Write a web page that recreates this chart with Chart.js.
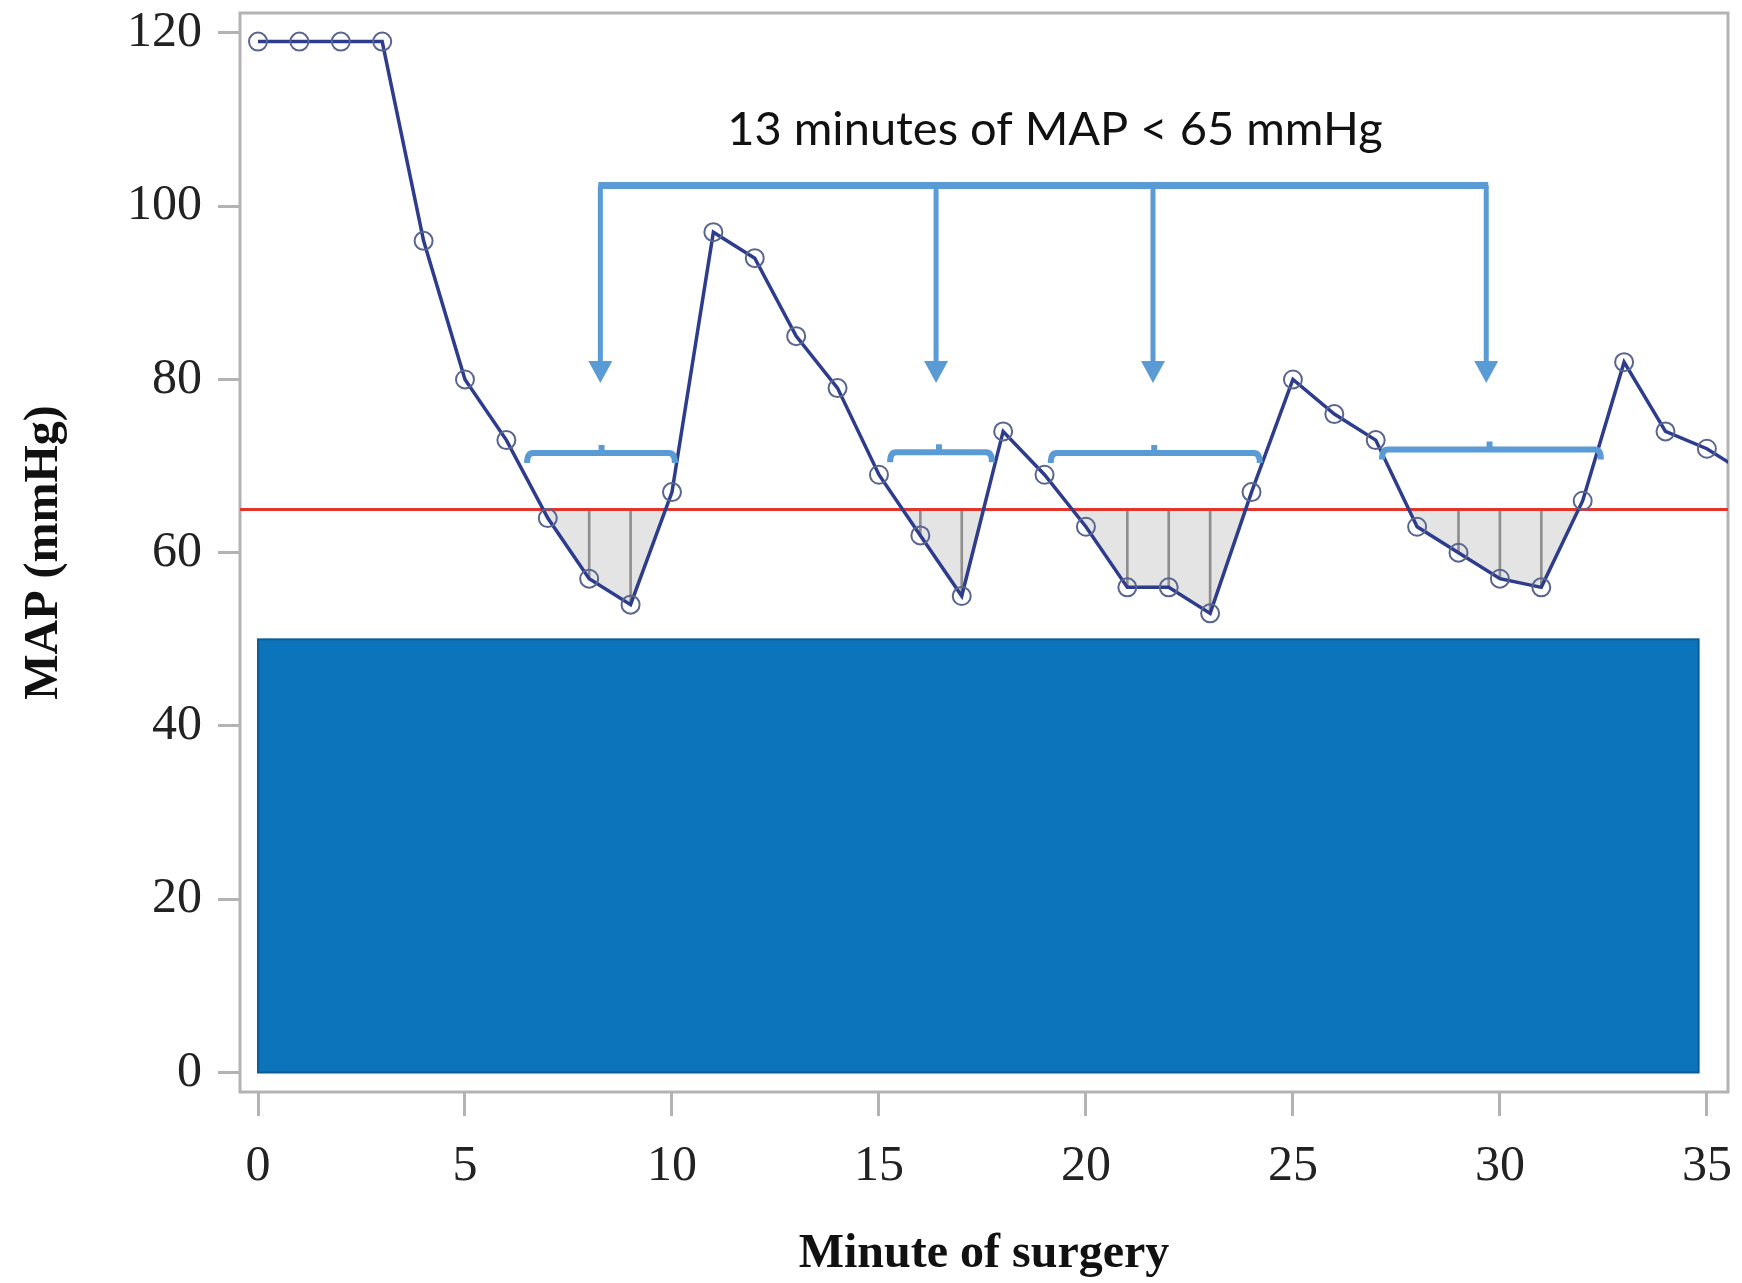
<!DOCTYPE html>
<html>
<head>
<meta charset="utf-8">
<title>MAP during surgery</title>
<script src="https://cdn.jsdelivr.net/npm/chart.js@4.4.0/dist/chart.umd.min.js"></script>
<style>
  html, body { margin: 0; padding: 0; background: #ffffff; }
  canvas { display: block; }
</style>
</head>
<body>
<canvas id="mapChart" width="1742" height="1283"></canvas>
<script>
// minute of surgery and the MAP reading at each minute
var minutes = [0, 1, 2, 3, 4, 5, 6, 7, 8, 9, 10, 11, 12, 13, 14, 15, 16, 17, 18,
               19, 20, 21, 22, 23, 24, 25, 26, 27, 28, 29, 30, 31, 32, 33, 34, 35, 36];
var mapValues = [119, 119, 119, 119, 96, 80, 73, 64, 57, 54, 67, 97, 94, 85, 79, 69, 62, 55, 74,
                 69, 63, 56, 56, 53, 67, 80, 76, 73, 63, 60, 57, 56, 66, 82, 74, 72, 69];
var threshold = 65;
// minutes that get a drop line down from the threshold
var dropMinutes = [8, 9, 16, 17, 21, 22, 23, 29, 30, 31];

var xTicks = [0, 5, 10, 15, 20, 25, 30, 35];
var yTicks = [0, 20, 40, 60, 80, 100, 120];

// brackets over each stretch below 65 (minutes / mmHg)
var spanStarts = [6.5, 15.27, 19.15, 27.15];
var spanMids = [8.3, 16.45, 21.65, 29.75];
var spanEnds = [10.07, 17.73, 24.2, 32.44];
var spanLevels = [71.5, 71.6, 71.5, 71.9];
// arrows from the summary bracket down to each stretch
var arrowMinutes = [8.27, 16.38, 21.62, 29.67];
var arrowTop = 102.4;
var arrowTip = 79.6;
var noteText = '13 minutes of MAP < 65 mmHg';
var notePos = [19.25, 108.8];
// solid blue cover box: minutes from/to, mmHg from/to
var coverBox = [0, 34.8, 0, 50];

var serif = '"Liberation Serif", "DejaVu Serif", serif';
var bracketBlue = '#5b9bd5';

var annotations = {
    id: 'annotations',
    beforeDatasetsDraw: function(chart) {
        var a = chart.chartArea, ctx = chart.ctx;
        ctx.save();
        ctx.strokeStyle = '#b3b3b3';
        ctx.lineWidth = 3;
        ctx.strokeRect(a.left, a.top, a.right - a.left, a.bottom - a.top);
        ctx.restore();
    },
    afterDatasetsDraw: function(chart) {
        var ctx = chart.ctx;
        var xs = chart.scales.x, ys = chart.scales.y;
        ctx.save();

        // blue cover box
        var bx1 = xs.getPixelForValue(coverBox[0]), bx2 = xs.getPixelForValue(coverBox[1]);
        var by1 = ys.getPixelForValue(coverBox[3]), by2 = ys.getPixelForValue(coverBox[2]);
        ctx.fillStyle = '#0b74ba';
        ctx.fillRect(bx1, by1, bx2 - bx1, by2 - by1);
        ctx.strokeStyle = '#0a5d96';
        ctx.lineWidth = 2;
        ctx.strokeRect(bx1, by1, bx2 - bx1, by2 - by1);

        // small brackets
        ctx.strokeStyle = bracketBlue;
        ctx.lineWidth = 6;
        ctx.lineJoin = 'round';
        ctx.lineCap = 'butt';
        for (var i = 0; i < spanStarts.length; i++) {
            var x1 = xs.getPixelForValue(spanStarts[i]);
            var x2 = xs.getPixelForValue(spanEnds[i]);
            var xm = xs.getPixelForValue(spanMids[i]);
            var y = ys.getPixelForValue(spanLevels[i]);
            ctx.beginPath();
            ctx.moveTo(x1, y + 10);
            ctx.quadraticCurveTo(x1, y, x1 + 6, y);
            ctx.lineTo(x2 - 6, y);
            ctx.quadraticCurveTo(x2, y, x2, y + 10);
            ctx.moveTo(xm, y);
            ctx.lineTo(xm, y - 8);
            ctx.stroke();
        }

        // summary bracket with arrows
        var yt = ys.getPixelForValue(arrowTop);
        var yTip = ys.getPixelForValue(arrowTip);
        var first = xs.getPixelForValue(arrowMinutes[0]);
        var last = xs.getPixelForValue(arrowMinutes[arrowMinutes.length - 1]);
        ctx.lineWidth = 7;
        ctx.beginPath();
        ctx.moveTo(first - 2, yt);
        ctx.lineTo(last + 2, yt);
        ctx.stroke();
        ctx.lineWidth = 5;
        ctx.fillStyle = bracketBlue;
        arrowMinutes.forEach(function(m) {
            var ax = xs.getPixelForValue(m);
            ctx.beginPath();
            ctx.moveTo(ax, yt);
            ctx.lineTo(ax, yTip - 20);
            ctx.stroke();
            ctx.beginPath();
            ctx.moveTo(ax - 12, yTip - 22);
            ctx.lineTo(ax + 12, yTip - 22);
            ctx.lineTo(ax, yTip);
            ctx.closePath();
            ctx.fill();
        });

        // note text
        ctx.fillStyle = '#111111';
        ctx.font = '47px Lato, "Open Sans", sans-serif';
        ctx.textAlign = 'center';
        ctx.textBaseline = 'middle';
        ctx.fillText(noteText, xs.getPixelForValue(notePos[0]), ys.getPixelForValue(notePos[1]));
        ctx.restore();
    }
};

window.onload = function() {
    var ctx = document.getElementById('mapChart').getContext('2d');
    var mapChart = new Chart(ctx, {
        type: 'line',
        data: {
            datasets: [{
                label: 'MAP',
                data: minutes.map(function(m, i) { return { x: m, y: mapValues[i] }; }),
                borderColor: '#2d3c8c',
                borderWidth: 3.5,
                pointRadius: 9,
                pointBorderWidth: 2,
                pointBorderColor: '#59658f',
                pointBackgroundColor: 'rgba(0,0,0,0)',
                tension: 0,
                fill: { target: { value: threshold }, above: 'rgba(0,0,0,0)', below: '#e4e4e4' },
                order: 0
            }, {
                label: 'Threshold',
                data: [{ x: -1, y: threshold }, { x: 37, y: threshold }],
                borderColor: '#e2362c',
                borderWidth: 3,
                pointRadius: 0,
                fill: false,
                order: 1
            }, {
                type: 'bar',
                label: 'Below threshold',
                data: dropMinutes.map(function(m) {
                    return { x: m, y: [threshold, mapValues[minutes.indexOf(m)]] };
                }),
                backgroundColor: '#8e8e8e',
                borderWidth: 0,
                barThickness: 2,
                order: 2
            }]
        },
        options: {
            responsive: false,
            animation: false,
            layout: { padding: { top: 13, right: 14, left: 0, bottom: 0 } },
            plugins: {
                legend: { display: false },
                tooltip: { enabled: false },
                filler: { drawTime: 'beforeDatasetsDraw' }
            },
            scales: {
                x: {
                    type: 'linear',
                    min: -0.435,
                    max: 35.51,
                    offset: false,
                    afterBuildTicks: function(s) { s.ticks = xTicks.map(function(v) { return { value: v }; }); },
                    afterFit: function(s) {
                        s.height = 191;
                        s.paddingLeft = 0;
                        s.paddingRight = 0;
                    },
                    border: { display: false },
                    grid: { offset: false, drawOnChartArea: false, drawTicks: true, tickLength: 24, tickColor: '#b3b3b3', tickWidth: 3 },
                    ticks: { font: { family: serif, size: 50 }, color: '#222222', padding: 21, maxRotation: 0, autoSkip: false },
                    title: {
                        display: true,
                        text: 'Minute of surgery',
                        color: '#111111',
                        font: { family: serif, size: 48, weight: 'bold' },
                        padding: { top: 0, bottom: 0 }
                    }
                },
                y: {
                    min: -2.25,
                    max: 122.3,
                    afterBuildTicks: function(s) { s.ticks = yTicks.map(function(v) { return { value: v }; }); },
                    afterFit: function(s) {
                        s.width = 240;
                        s.paddingTop = 0;
                        s.paddingBottom = 0;
                    },
                    border: { display: false },
                    grid: { drawOnChartArea: false, drawTicks: true, tickLength: 22, tickColor: '#b3b3b3', tickWidth: 3 },
                    ticks: { font: { family: serif, size: 50 }, color: '#222222', padding: 16 },
                    title: {
                        display: true,
                        text: 'MAP (mmHg)',
                        color: '#111111',
                        font: { family: serif, size: 48, weight: 'bold' },
                        padding: { top: 16, bottom: 0 }
                    }
                }
            }
        },
        plugins: [annotations]
    });
};
</script>
</body>
</html>
